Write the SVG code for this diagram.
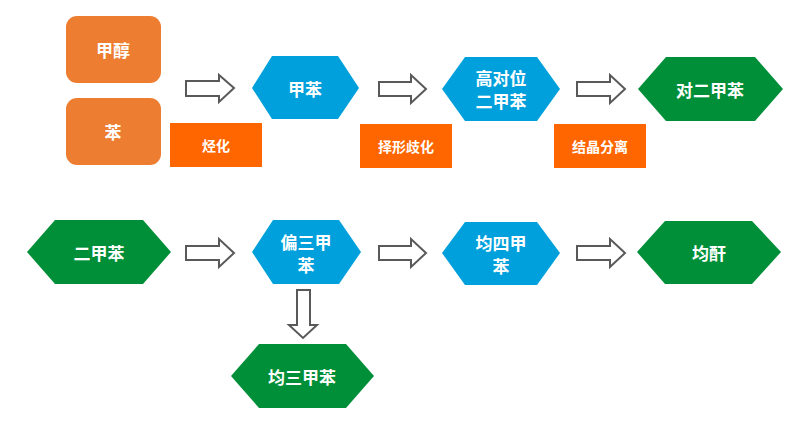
<svg xmlns="http://www.w3.org/2000/svg" width="806" height="421" viewBox="0 0 806 421">
<style>
.t{font-family:"Microsoft YaHei","Noto Sans CJK SC",sans-serif;font-weight:bold;fill:#fff;text-anchor:middle;dominant-baseline:central}
.n{font-size:17px}
.s{font-size:14px}
.or{fill:#ED7D31}
.lb{fill:#FF6600}
.bl{fill:#00A0DC}
.gr{fill:#008F39}
.ar{fill:#fff;stroke:#595959;stroke-width:2;stroke-linejoin:miter}
</style>
<rect width="806" height="421" fill="#fff"/>
<g id="n-methanol"><rect class="or" x="66" y="16" width="95" height="67" rx="11"/><text class="t n" x="113" y="49">甲醇</text></g>
<g id="n-benzene"><rect class="or" x="66" y="98" width="95" height="67" rx="11"/><text class="t n" x="113" y="131">苯</text></g>
<g id="n-toluene"><polygon class="bl" points="252,88 272,56 338,56 359,88 338,119 272,119"/><text class="t n" x="305" y="88">甲苯</text></g>
<g id="n-hpx"><polygon class="bl" points="442,89 465,57 537,57 560,89 537,121 465,121"/><text class="t n" x="501" y="77">高对位</text><text class="t n" x="501" y="100">二甲苯</text></g>
<g id="n-px"><polygon class="gr" points="638,89 666,57 755,57 783,89 755,121 666,121"/><text class="t n" x="710" y="89">对二甲苯</text></g>
<g id="l-alk"><rect class="lb" x="170" y="123" width="92" height="44"/><text class="t s" x="216" y="145">烃化</text></g>
<g id="l-sel"><rect class="lb" x="360" y="124" width="92" height="44"/><text class="t s" x="406" y="146">择形歧化</text></g>
<g id="l-cry"><rect class="lb" x="554" y="124" width="92" height="44"/><text class="t s" x="600" y="146">结晶分离</text></g>
<g id="n-xylene"><polygon class="gr" points="27,252 55,220 143,220 171,252 143,284 55,284"/><text class="t n" x="99" y="252">二甲苯</text></g>
<g id="n-pseudo"><polygon class="bl" points="252,252 273,220 339,220 361,252 339,284 273,284"/><text class="t n" x="306" y="241">偏三甲</text><text class="t n" x="306" y="264">苯</text></g>
<g id="n-durene"><polygon class="bl" points="442,253 465,222 537,222 560,253 537,285 465,285"/><text class="t n" x="501" y="242">均四甲</text><text class="t n" x="501" y="265">苯</text></g>
<g id="n-pmda"><polygon class="gr" points="637,252 665,221 752,221 781,252 752,284 665,284"/><text class="t n" x="709" y="252">均酐</text></g>
<g id="n-mes"><polygon class="gr" points="231,376 259,344 346,344 374,376 346,408 259,408"/><text class="t n" x="302" y="376">均三甲苯</text></g>
<g id="connectors">
<polygon class="ar" points="186,81 219,81 219,75 234,88 219,102 219,96 186,96"/>
<polygon class="ar" points="379,82 411,82 411,75 426,89 411,103 411,96 379,96"/>
<polygon class="ar" points="577,82 610,82 610,75 625,89 610,103 610,96 577,96"/>
<polygon class="ar" points="186,246 219,246 219,239 234,253 219,267 219,260 186,260"/>
<polygon class="ar" points="379,246 411,246 411,239 426,253 411,267 411,260 379,260"/>
<polygon class="ar" points="577,246 610,246 610,239 625,253 610,267 610,260 577,260"/>
<polygon class="ar" points="297,290 310,290 310,325 317,325 303,338 289,325 297,325"/>
</g>
</svg>
